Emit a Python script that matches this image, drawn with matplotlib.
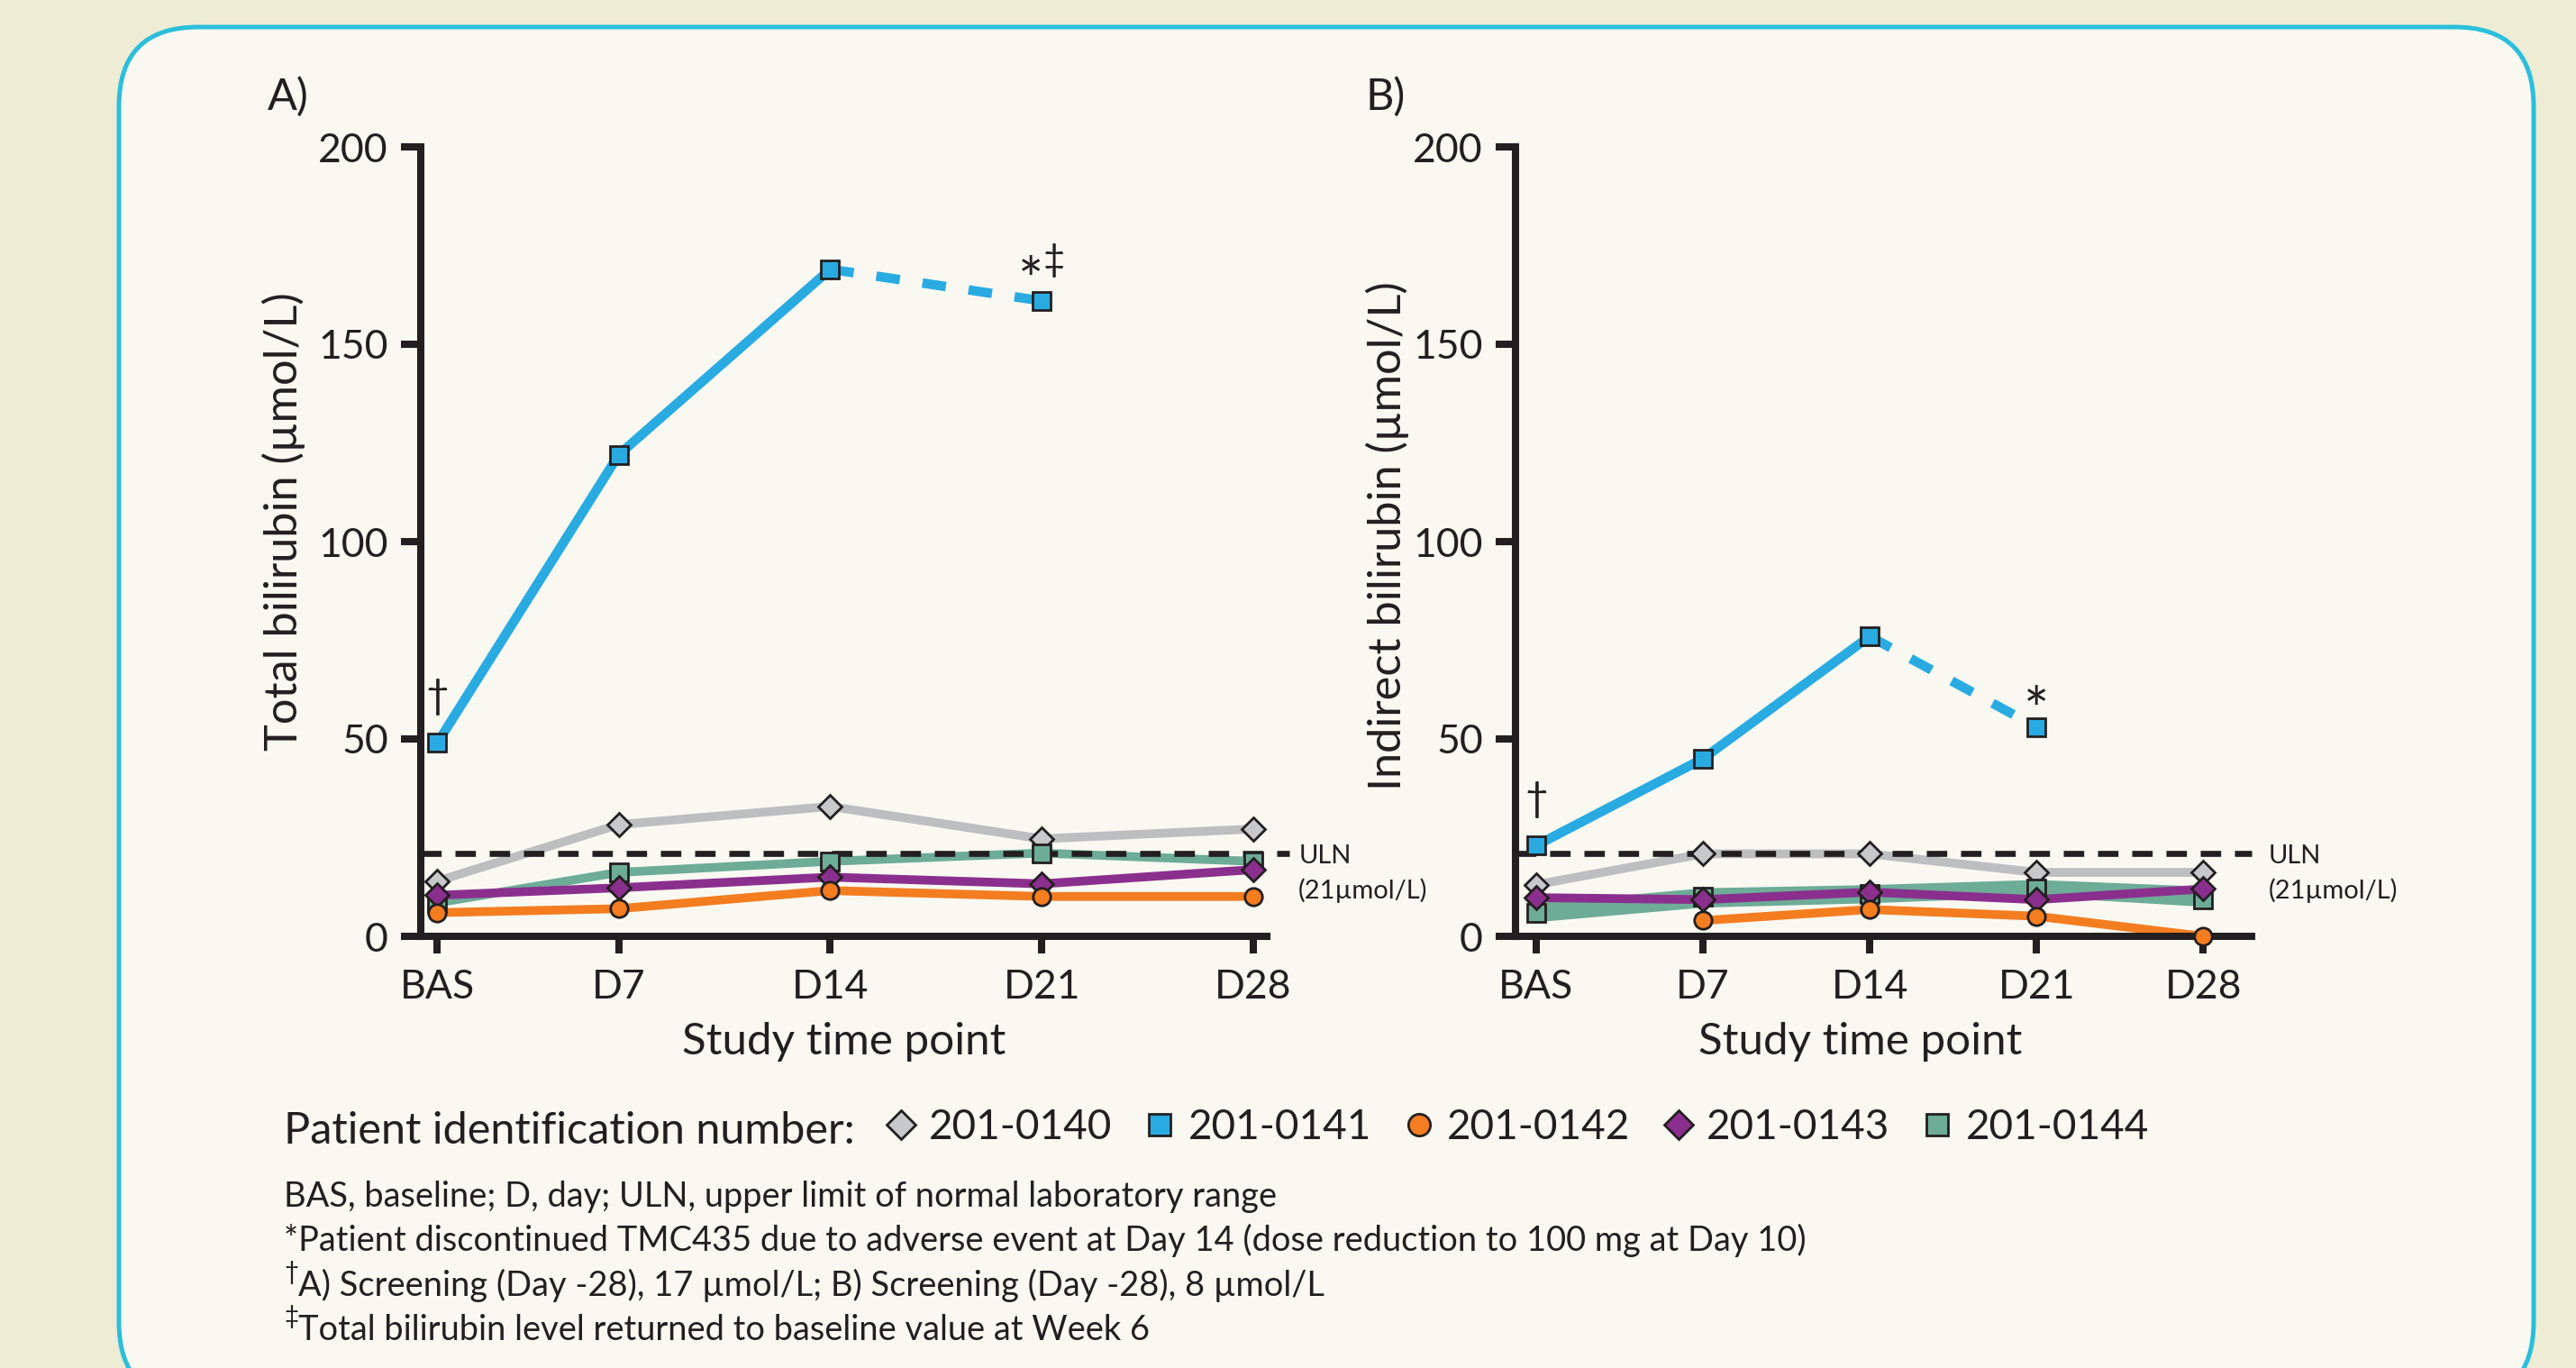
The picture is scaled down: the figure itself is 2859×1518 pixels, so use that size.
import numpy as np
import matplotlib.pyplot as plt
from matplotlib.patches import FancyBboxPatch
from matplotlib.lines import Line2D

plt.rcParams['font.family'] = ['Lato', 'DejaVu Sans']

# x positions: panel A uses study day, panel B is evenly spaced
timepoints = ['BAS', 'D7', 'D14', 'D21', 'D28']
days_a = [1, 7, 14, 21, 28]
pos_b = [0, 1, 2, 3, 4]

patients = ['201-0140', '201-0141', '201-0142', '201-0143', '201-0144']
nan = np.nan

# A) total bilirubin (umol/L)
total_0140 = [14, 28.3, 32.9, 24.7, 27.2]
total_0141 = [49, 122, 169, 161, nan]
total_0142 = [6.0, 7.0, 11.6, 10.1, 10.1]
total_0143 = [10.4, 12.3, 15.0, 13.3, 16.9]
total_0144 = [8.5, 16.2, 19.0, 21.1, 19.0]

# B) indirect bilirubin (umol/L)
indirect_0140 = [13.1, 20.9, 20.9, 16.2, 16.2]
indirect_0141 = [23, 45, 76, 53, nan]
indirect_0142 = [nan, 4.0, 6.8, 5.1, 0]
indirect_0143 = [9.8, 9.3, 11.2, 9.3, 12.0]
indirect_0144 = [5.9, 10.1, 10.8, 12.1, 9.3]
indirect_0144_lo = [3.7, 7.4, 8.5, 10.1, 7.6]
indirect_0144_hi = [8.5, 12.3, 13.1, 14.4, 12.7]

uln = 21

TEXT = '#231F20'
BG_OUT = '#EFECD5'
BG_IN = '#F9F9F2'
BORDER = '#2BBFDB'
GRAY_LINE = '#BCBEC0'
GRAY = '#C6C8CA'
BLUE = '#29ABE2'
ORANGE = '#F47D20'
PURPLE = '#8B2F8E'
GREEN = '#6DAC97'

LW = 3.5
MS = 7
MEW = 1.0

fig = plt.figure(figsize=(14.295, 7.59), dpi=200)
fig.patch.set_facecolor(BG_OUT)

frame = FancyBboxPatch(
    (0.66, -0.185), 13.4, 7.625,
    boxstyle='round,pad=0,rounding_size=0.44',
    transform=fig.dpi_scale_trans,
    facecolor=BG_IN, edgecolor=BORDER, linewidth=1.8, zorder=-5
)
fig.patches.append(frame)

ax_a = fig.add_axes([467 / 2859, 1 - 1039 / 1518, 939 / 2859, 876 / 1518])
ax_b = fig.add_axes([1682 / 2859, 1 - 1039 / 1518, 817 / 2859, 876 / 1518])


def series(ax, x, y, line_color, marker, fill, lw=LW):
    ax.plot(x, y, color=line_color, lw=lw, solid_capstyle='butt',
            zorder=2, clip_on=False)
    ax.plot(x, y, ls='none', marker=marker, ms=MS if marker != 'D' else 6.5,
            mfc=fill, mec=TEXT, mew=MEW, zorder=4, clip_on=False)


def draw_panel(ax, x, v0140, v0141, v0142, v0143, v0144, band=None):
    x = np.array(x, dtype=float)
    series(ax, x, v0140, GRAY_LINE, 'D', GRAY)
    if band is not None:
        ax.fill_between(x, band[0], band[1], color=GREEN, lw=0, zorder=2)
        ax.plot(x, v0144, ls='none', marker='s', ms=MS, mfc=GREEN,
                mec=TEXT, mew=MEW, zorder=4, clip_on=False)
    else:
        series(ax, x, v0144, GREEN, 's', GREEN)
    series(ax, x, v0143, PURPLE, 'D', PURPLE)
    series(ax, x, v0142, ORANGE, 'o', ORANGE)
    v0141 = np.array(v0141, dtype=float)
    ax.plot(x[:3], v0141[:3], color=BLUE, lw=3.8, zorder=2,
            solid_capstyle='butt', clip_on=False)
    ax.plot(x[2:4], v0141[2:4], color=BLUE, lw=3.8, ls=(0, (2.5, 2.4)),
            zorder=2, clip_on=False)
    ax.plot(x, v0141, ls='none', marker='s', ms=MS, mfc=BLUE, mec=TEXT,
            mew=MEW, zorder=4, clip_on=False)

    ax.set_ylim(0, 200)
    ax.set_yticks([0, 50, 100, 150, 200])
    ax.set_xticks(x)
    ax.set_xticklabels(timepoints)
    ax.set_facecolor('none')
    for side in ['top', 'right']:
        ax.spines[side].set_visible(False)
    for side in ['left', 'bottom']:
        ax.spines[side].set_linewidth(2.9)
        ax.spines[side].set_color(TEXT)
        ax.spines[side].set_capstyle('projecting')
    ax.tick_params(axis='both', direction='out', width=2.9, color=TEXT,
                   labelsize=16, labelcolor=TEXT)
    ax.tick_params(axis='y', length=8, pad=5)
    ax.tick_params(axis='x', length=7, pad=6)


draw_panel(ax_a, days_a, total_0140, total_0141, total_0142, total_0143,
           total_0144)
ax_a.set_xlim(0.45, 28.45)
draw_panel(ax_b, pos_b, indirect_0140, indirect_0141, indirect_0142,
           indirect_0143, indirect_0144, band=(indirect_0144_lo, indirect_0144_hi))
ax_b.set_xlim(-0.124, 4.29)

uln_dash = (0, (3.4, 2.3))
ax_a.plot([0.45, 29.2], [uln, uln], color=TEXT, lw=2.4, ls=uln_dash,
          zorder=3, clip_on=False)
ax_b.plot([-0.124, 4.29], [uln, uln], color=TEXT, lw=2.4, ls=uln_dash,
          zorder=3, clip_on=False)

for ax, xt in [(ax_a, 29.5), (ax_b, 4.39)]:
    ax.text(xt, 20.3, 'ULN', fontsize=10.5, color=TEXT, ha='left', va='center')
    ax.text(xt, 11.6, '(21\u00b5mol/L)', fontsize=10.5, color=TEXT,
            ha='left', va='center')

# footnote markers on the data
ax_a.text(1, 56, '\u2020', fontsize=16, color=TEXT, ha='center', va='bottom')
ax_a.text(21.05, 161, '*', fontsize=24, color=TEXT, ha='right', va='baseline')
ax_a.text(21.05, 168.5, '\u2021', fontsize=15, color=TEXT, ha='left', va='baseline')
ax_b.text(0, 30, '\u2020', fontsize=16, color=TEXT, ha='center', va='bottom')
ax_b.text(3, 52, '*', fontsize=24, color=TEXT, ha='center', va='baseline')

ax_a.text(-0.1619, 0.526, 'Total bilirubin (\u00b5mol/L)', transform=ax_a.transAxes,
          rotation=90, fontsize=18.2, color=TEXT, ha='center', va='center')
ax_b.text(-0.1738, 0.507, 'Indirect bilirubin (\u00b5mol/L)', transform=ax_b.transAxes,
          rotation=90, fontsize=18.2, color=TEXT, ha='center', va='center')
ax_a.text(0.5, -0.1336, 'Study time point', transform=ax_a.transAxes,
          fontsize=17.8, color=TEXT, ha='center', va='center')
ax_b.text(0.469, -0.1336, 'Study time point', transform=ax_b.transAxes,
          fontsize=17.8, color=TEXT, ha='center', va='center')

fig.text(297 / 2859, 1 - 122 / 1518, 'A)', fontsize=17.5, color=TEXT,
         ha='left', va='baseline')
fig.text(1515 / 2859, 1 - 122 / 1518, 'B)', fontsize=17.5, color=TEXT,
         ha='left', va='baseline')

# legend row
fig.text(315 / 2859, 1 - 1269 / 1518, 'Patient identification number:',
         fontsize=17.5, color=TEXT, ha='left', va='baseline')
handles = [
    Line2D([], [], ls='none', marker='D', ms=6.5, mfc=GRAY, mec=TEXT, mew=MEW),
    Line2D([], [], ls='none', marker='s', ms=MS, mfc=BLUE, mec=TEXT, mew=MEW),
    Line2D([], [], ls='none', marker='o', ms=MS, mfc=ORANGE, mec=TEXT, mew=MEW),
    Line2D([], [], ls='none', marker='D', ms=6.5, mfc=PURPLE, mec=TEXT, mew=MEW),
    Line2D([], [], ls='none', marker='s', ms=MS, mfc=GREEN, mec=TEXT, mew=MEW),
]
leg = fig.legend(handles, patients, loc='center left',
                 bbox_to_anchor=(986 / 2859, 1 - 1251 / 1518), ncol=5,
                 frameon=False, fontsize=16.5, handlelength=0.6,
                 handletextpad=0.38, columnspacing=0.86, borderpad=0,
                 borderaxespad=0, markerscale=1.25)
for t in leg.get_texts():
    t.set_color(TEXT)

notes = [
    ('', 'BAS, baseline; D, day; ULN, upper limit of normal laboratory range'),
    ('', '*Patient discontinued TMC435 due to adverse event at Day 14 (dose reduction to 100 mg at Day 10)'),
    ('\u2020', 'A) Screening (Day -28), 17 \u00b5mol/L; B) Screening (Day -28), 8 \u00b5mol/L'),
    ('\u2021', 'Total bilirubin level returned to baseline value at Week 6'),
]
baselines = [1339, 1388, 1438, 1487]
for (sup, line), yb in zip(notes, baselines):
    x0 = 315
    if sup:
        fig.text(x0 / 2859, 1 - (yb - 18) / 1518, sup, fontsize=10,
                 color=TEXT, ha='left', va='baseline')
        x0 = 331
    fig.text(x0 / 2859, 1 - yb / 1518, line, fontsize=13.7, color=TEXT,
             ha='left', va='baseline')

fig.savefig('out.png', dpi=200, facecolor=BG_OUT)
